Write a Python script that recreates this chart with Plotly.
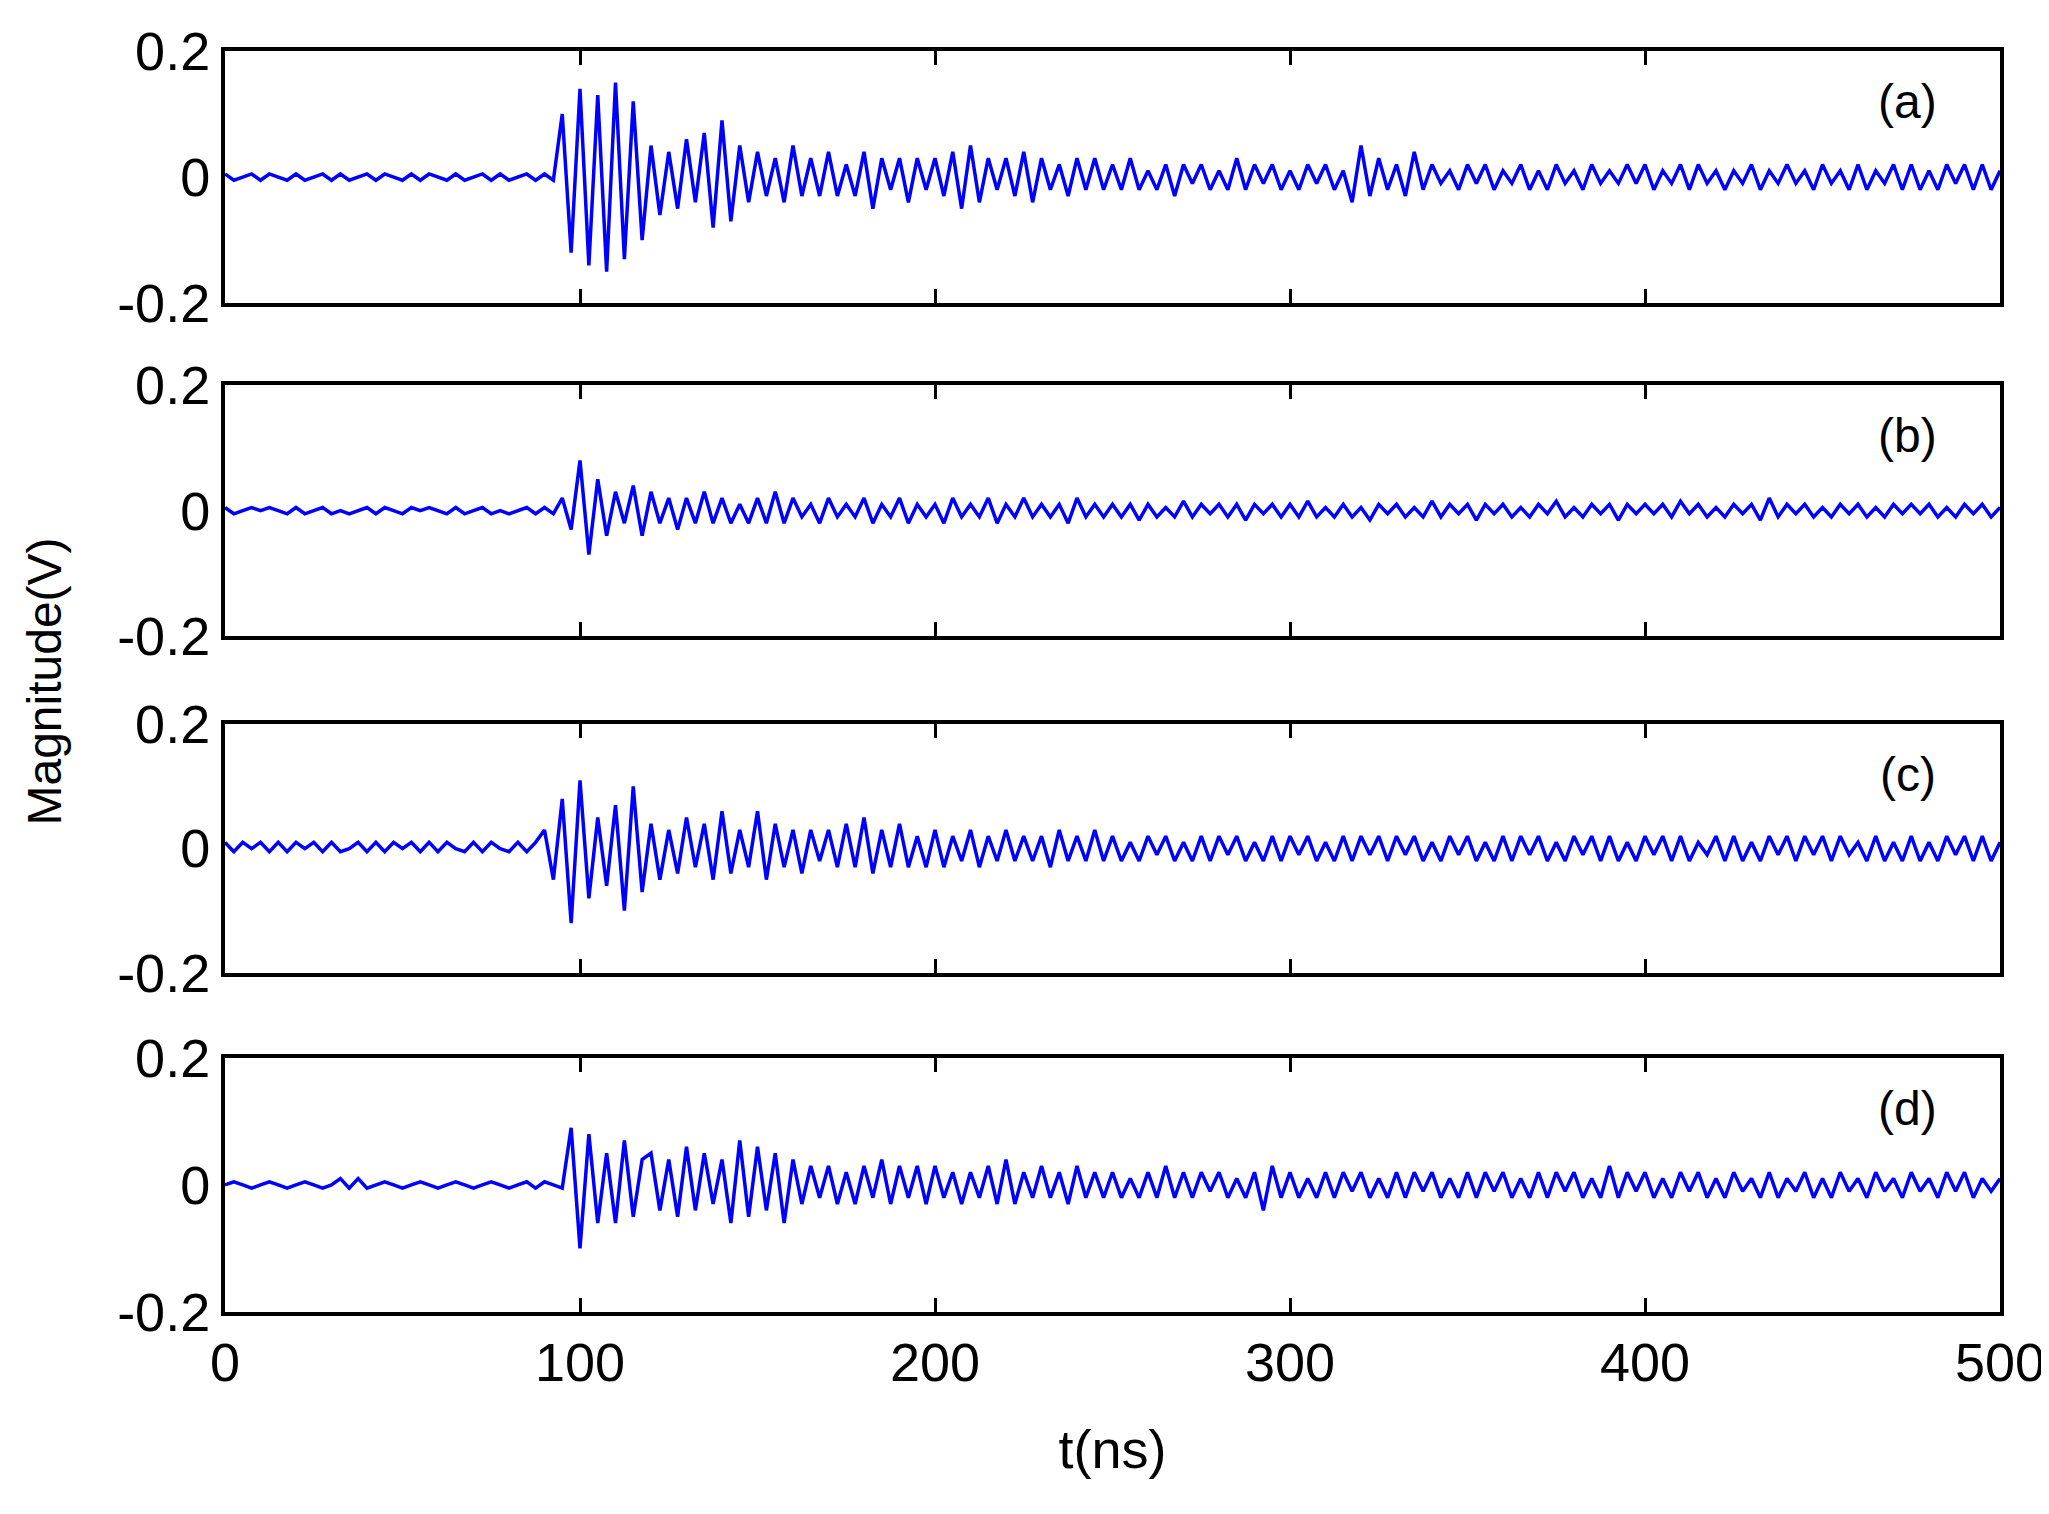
import numpy as np
import plotly.graph_objects as go
from plotly.subplots import make_subplots

# time axis: 0..500 ns, step 2.5 ns
t_ns = [i * 2.5 for i in range(201)]

# signal values in units of 0.01 V
sig_a = [0.5,-0.5,0,0.5,-0.5,0.5,0,-0.5,0.5,-0.5, 0,0.5,-0.5,0.5,-0.5,0,0.5,-0.5,0.5,0, -0.5,0.5,-0.5,0.5,0,-0.5,0.5,-0.5,0,0.5, -0.5,0.5,-0.5,0,0.5,-0.5,0.5,-0.5,
         10,-12,14,-14,13,-15,15,-13,12,-10,
         5,-6,4,-5,6,-4,7,-8,9,-7,5,-4,
         4,-3,3,-4,5,-3,3,-3,4,-3,2,-3,4,-5,3,-2,3,-4,3,-2,
         3,-3,4,-5,5,-4,3,-2,3,-3,4,-4,3,-2,2,-3,3,-2,3,-2,
         2,-2,3,-2,1,-2,2,-3,2,-1, 2,-2,1,-2,3,-2,2,-1,2,-2, 1,-2,2,-1,2,-2,1,-4,5,-3,
         3,-2,2,-3,4,-2,2,-1,1,-2, 2,-1,2,-2,1,-1,2,-2,1,-2, 2,-1,1,-2,2,-1,1,-1,2,-1,
         2,-2,1,-1,2,-2,2,-1,1,-2, 1,-1,2,-2,1,-1,2,-1,1,-2, 2,-1,1,-2,2,-2,1,-1,2,-2,
         2,-2,1,-2,2,-1,2,-2,2,-2, 1]

sig_b = [0.5,-0.5,0,0.5,0,0.5,0,-0.5,0.5,-0.5, 0,0.5,-0.5,0,-0.5,0,0.5,-0.5,0.5,0, -0.5,0.5,0,0.5,0,-0.5,0.5,-0.5,0,0.5, -0.5,0,-0.5,0,0.5,-0.5,0.5,-0.5,
         2,-3,8,-7,5,-4,3,-2,4,-4,
         3,-2,2,-3,2,-2,3,-2,2,-2,1,-2,
         2,-2,3,-2,2,-1,1,-2,2,-1,1,-1,2,-2,1,-1,2,-2,1,-1,
         1,-2,2,-1,1,-1,2,-2,1,-1,2,-1,1,-1,1,-2,2,-1,1,-1,
         1,-1,1,-1.5,1,-1,0.5,-1,1.5,-1, 1,-0.5,1,-1,1,-1.5,1,-0.5,1,-1, 1,-1,1.5,-1,0.5,-1,1,-1,0.5,-1.5,
         1,-0.5,1,-1,0.5,-1,1.5,-1,1,-0.5, 1,-1.5,1,-0.5,1,-1,0.5,-1,1,-0.5, 1.5,-1,0.5,-1,1,-0.5,1,-1.5,1,-0.5,
         1,-0.5,1,-1,1.5,-0.5,1,-1,0.5,-1, 1,-0.5,1,-1.5,2,-1,1,-0.5,1,-1, 0.5,-1,1,-0.5,1,-1,0.5,-1,1,-0.5,
         1,-0.5,1,-1,0.5,-1,1,-0.5,1,-1, 0.5]

sig_c = [1,-0.5,1,0,1,-0.5,1,-0.5,1,0, 1,-0.5,1,-0.5,0,1,-0.5,1,-0.5,1, 0,1,-0.5,1,-0.5,1,0,-0.5,1,-0.5, 1,0,-0.5,1,-0.5,1,
         3,-5,8,-12,11,-8,5,-6,7,-10,10,-7,
         4,-5,3,-4,5,-3,4,-5,6,-4,3,-3,
         6,-5,4,-3,3,-4,3,-2,3,-3,4,-3,5,-4,3,-3,4,-3,2,-3,
         3,-3,2,-2,3,-3,2,-2,3,-2,2,-2,2,-3,3,-2,2,-2,3,-2,
         2,-2,1,-2,2,-1,2,-2,1,-2, 2,-2,2,-1,2,-2,1,-2,2,-2, 2,-1,2,-2,1,-2,2,-2,2,-1,
         2,-2,2,-1,2,-2,1,-2,2,-1, 2,-2,1,-2,2,-2,2,-1,2,-2, 1,-2,2,-1,2,-2,2,-2,1,-2,
         2,-1,2,-2,2,-2,1,-1,2,-2, 2,-2,1,-2,2,-1,2,-2,2,-1, 2,-2,2,-1,1,-2,2,-2,1,-2,
         2,-2,1,-2,2,-1,2,-2,2,-2, 1]

sig_d = [0,0.5,0,-0.5,0,0.5,0,-0.5,0,0.5, 0,-0.5,0,1,-0.5,1,-0.5,0,0.5,0, -0.5,0,0.5,0,-0.5,0,0.5,0,-0.5,0, 0.5,0,-0.5,0,0.5,-0.5,0.5,0,-0.5,
         9,-10,8,-6,5,-6,7,-5,4,
         5,-4,4,-5,6,-4,5,-3,4,-6,7,-5,6,-4,5,-6,4,-3,
         3,-2,3,-3,2,-3,3,-2,4,-3,3,-2,3,-3,
         3,-2,2,-3,2,-2,3,-3,4,-3,2,-2,3,-2,2,-3,3,-2,2,-2,
         2,-2,1,-2,2,-2,3,-2,2,-2, 2,-1,2,-2,1,-2,2,-4,3,-2, 2,-2,1,-2,2,-2,2,-1,2,-2,
         1,-2,2,-2,2,-1,2,-2,1,-2, 2,-2,2,-1,2,-2,1,-2,2,-2, 2,-1,2,-2,1,-2,3,-2,2,-1,
         2,-2,1,-2,2,-1,2,-2,1,-2, 2,-1,1,-2,2,-2,1,-1,2,-2, 1,-2,2,-1,1,-2,2,-1,1,-2,
         2,-1,1,-2,2,-1,2,-2,1,-1, 1]

signals = [sig_a, sig_b, sig_c, sig_d]
panel_labels = ["(a)", "(b)", "(c)", "(d)"]
x_ticks = [0, 100, 200, 300, 400, 500]
y_ticks = [-0.2, 0, 0.2]
y_tick_text = ["-0.2", "0", "0.2"]

domains = [[0.800, 1.0], [0.536, 0.735], [0.269, 0.466], [0.0, 0.2015]]

fig = make_subplots(rows=4, cols=1, shared_xaxes=False)
FONT = "Liberation Sans, Arial, sans-serif"
for i, (s, lab) in enumerate(zip(signals, panel_labels)):
    r = i + 1
    fig.add_trace(go.Scatter(x=t_ns, y=np.array(s) * 0.01, mode="lines",
                             line=dict(color="#0000ff", width=3.5), showlegend=False), row=r, col=1)
    fig.update_yaxes(domain=domains[i], range=[-0.2, 0.2], tickvals=y_ticks, ticktext=y_tick_text,
                     showgrid=False, zeroline=False, showline=True, linecolor="black", linewidth=4,
                     mirror=True, ticks="", tickfont=dict(size=54, color="black", family=FONT),
                     row=r, col=1)
    fig.update_xaxes(range=[0, 500], tickvals=x_ticks, showticklabels=(r == 4),
                     showgrid=False, zeroline=False, showline=True, linecolor="black", linewidth=4,
                     mirror="allticks", ticks="inside", ticklen=14, tickwidth=3, tickcolor="black",
                     tickfont=dict(size=54, color="black", family=FONT), row=r, col=1)
    fig.add_annotation(x=474, y=0.12, text=lab, showarrow=False,
                       font=dict(size=48, color="black", family=FONT), row=r, col=1)

fig.update_xaxes(title=dict(text="t(ns)", font=dict(size=54, color="black", family=FONT), standoff=40), row=4, col=1)
fig.add_annotation(text="Magnitude(V)", x=-0.118, y=0.5, xref="paper", yref="paper", textangle=-90,
                   showarrow=False, font=dict(size=48, color="black", family=FONT))
fig.update_layout(width=2049, height=1514, margin=dict(l=217, r=53, t=43, b=210),
                  plot_bgcolor="white", paper_bgcolor="white")
fig.write_html("out.html")
